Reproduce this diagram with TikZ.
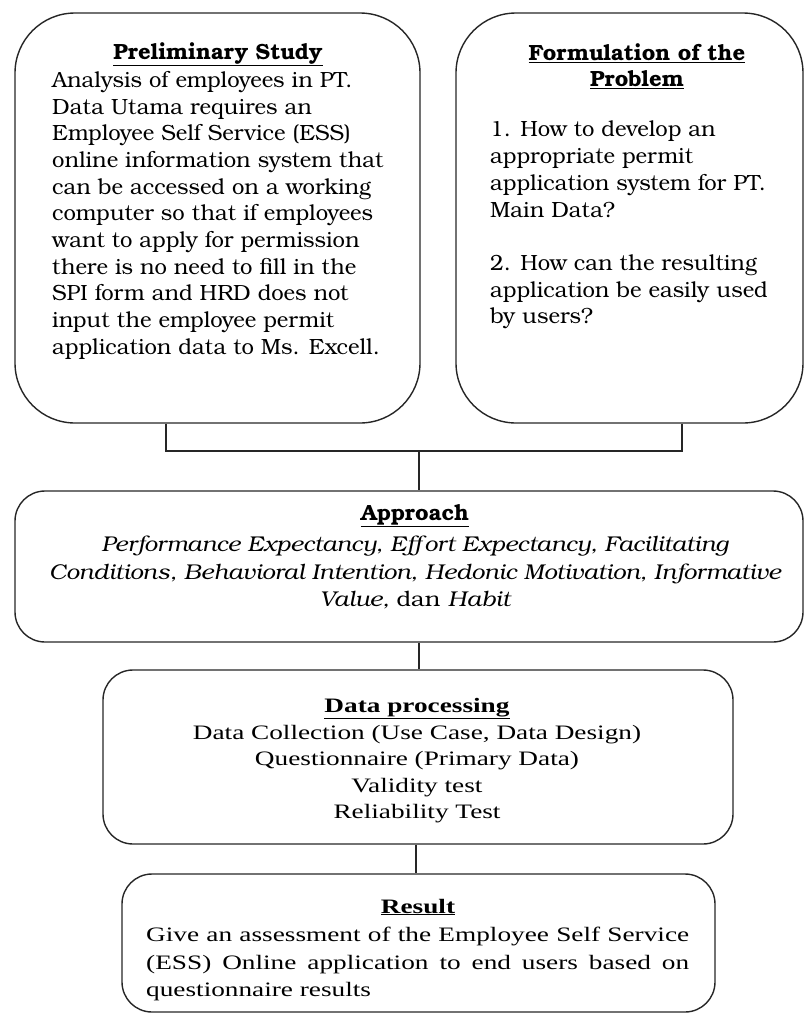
\documentclass[tikz,border=0pt]{standalone}
\usepackage{fontspec}
\setmainfont{Liberation Serif}
\newfontfamily\bookfont{TeX Gyre Bonum}
\newfontfamily\bookwide[FakeStretch=1.1]{TeX Gyre Bonum}
\newfontfamily\timesfont[FakeStretch=1.33]{Liberation Serif}
\usetikzlibrary{positioning}

\tikzset{
  box/.style={draw=black!85, line width=1.4pt, rounded corners=#1},
  box/.default=30pt,
  link/.style={draw=black!85, line width=1.4pt},
  booktxt/.style={inner sep=0pt, font=\bookfont\fontsize{22}{26.7}\selectfont},
  timestxt/.style={inner sep=0pt, font=\timesfont\fontsize{20.5}{26.6}\selectfont},
}

\begin{document}
\begin{tikzpicture}[x=1pt,y=-1pt]
    \useasboundingbox (0,0) rectangle (805,1013);

    % Top boxes
    \node[box=60pt, minimum width=405pt, minimum height=410pt] (prelim) at (217.5,218) {};
    \node[box=60pt, minimum width=347pt, minimum height=410pt] (formul) at (629.5,218) {};

    % Middle and lower boxes
    \node[box, minimum width=788pt, minimum height=151pt] (approach) at (409,566.5) {};
    \node[box, minimum width=630pt, minimum height=174pt] (dataproc) at (418,757) {};
    \node[box, minimum width=593pt, minimum height=138pt] (result) at (418.5,943) {};

    % Texts of the top boxes
    \node[booktxt, anchor=base] (prelimhead) at (218,59) {\textbf{\underline{Preliminary Study}}};
    \node[booktxt, anchor=north west, align=left] (prelimtxt) at (52,71)
        {Analysis of employees in PT.\\
         Data Utama requires an\\
         Employee Self Service (ESS)\\
         online information system that\\
         can be accessed on a working\\
         computer so that if employees\\
         want to apply for permission\\
         there is no need to fill in the\\
         SPI form and HRD does not\\
         input the employee permit\\
         application data to Ms. Excell.};
    \node[booktxt, anchor=north, align=center] (formulhead) at (637,43)
        {\textbf{\underline{Formulation of the}}\\\textbf{\underline{Problem}}};
    \node[booktxt, anchor=north west, align=left] (formultxt) at (490,121)
        {1. How to develop an\\
         appropriate permit\\
         application system for PT.\\
         Main Data?\\[26.7pt]
         2. How can the resulting\\
         application be easily used\\
         by users?};

    % Approach
    \node[booktxt, anchor=base] (approachhead) at (415,520) {\textbf{\underline{Approach}}};
    \node[booktxt, anchor=north, align=center, font=\bookwide\fontsize{21.4}{27.5}\selectfont\itshape] (approachtxt) at (415,536)
        {Performance Expectancy, Effort Expectancy, Facilitating\\
         Conditions, Behavioral Intention, Hedonic Motivation, Informative\\
         Value, \upshape dan \itshape Habit};

    % Data processing
    \node[timestxt, anchor=north, align=center] (dataproctxt) at (417,698)
        {\textbf{\underline{Data processing}}\\
         Data Collection (Use Case, Data Design)\\
         Questionnaire (Primary Data)\\
         Validity test\\
         Reliability Test};

    % Result
    \node[timestxt, anchor=base] (resulthead) at (418,913) {\textbf{\underline{Result}}};
    \node[timestxt, anchor=north west, text width=543pt, align=justify, font=\timesfont\fontsize{20.5}{27.5}\selectfont] (resulttxt) at (146,927)
        {Give an assessment of the Employee Self Service\linebreak
         (ESS) Online application to end users based on\linebreak
         questionnaire results};

    % Connections
    \coordinate (joint) at (419,451);
    \draw[link] (prelim.south -| 166,0) |- (joint);
    \draw[link] (formul.south -| 682,0) |- (joint);
    \draw[link] (joint) -- (approach.north -| joint);
    \draw[link] (approach.south -| joint) -- (dataproc.north -| joint);
    \draw[link] (dataproc.south -| 416,0) -- (result.north -| 416,0);
\end{tikzpicture}
\end{document}
